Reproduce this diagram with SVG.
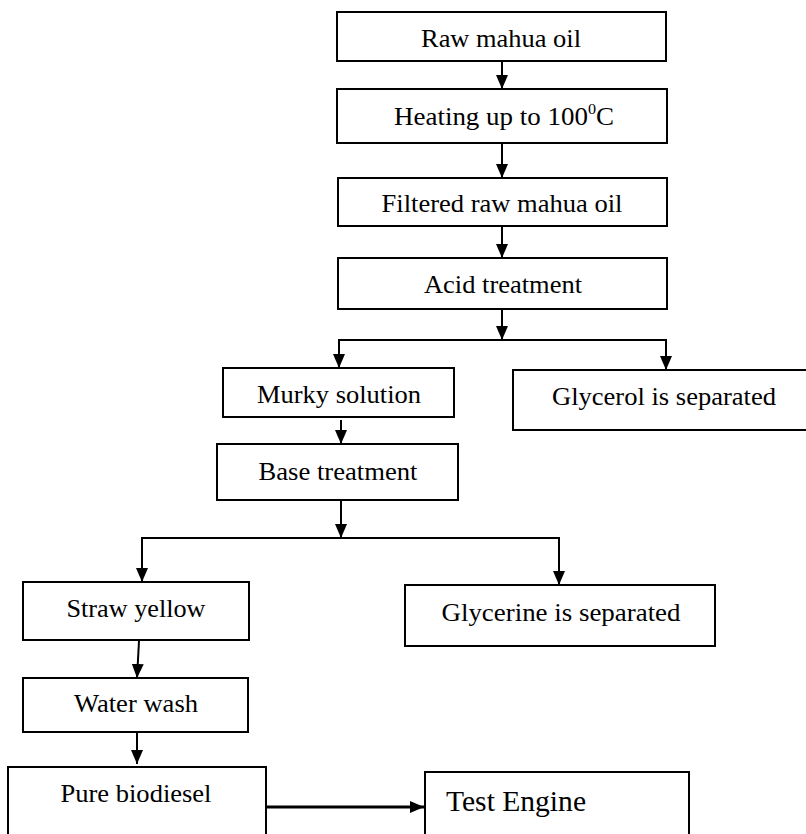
<svg xmlns="http://www.w3.org/2000/svg" width="806" height="834" viewBox="0 0 806 834">
<style>
.box{fill:#fff;stroke:#000;stroke-width:2}
.t{font-family:"Liberation Serif","Times New Roman",serif;font-size:25px;fill:#000;text-anchor:middle}
.c{fill:none;stroke:#000;stroke-width:2}
</style>
<defs>
<marker id="ah" markerUnits="userSpaceOnUse" markerWidth="14" markerHeight="12" refX="14" refY="6" orient="auto">
<path d="M0,0 L14,6 L0,12 Z" fill="#000"/>
</marker>
</defs>
<rect width="806" height="834" fill="#fff"/>
<g id="connectors">
<line class="c" x1="502" y1="61" x2="502" y2="89" marker-end="url(#ah)"/>
<line class="c" x1="502" y1="143" x2="502" y2="178" marker-end="url(#ah)"/>
<line class="c" x1="502" y1="226" x2="502" y2="258" marker-end="url(#ah)"/>
<line class="c" x1="502" y1="309" x2="502" y2="340" marker-end="url(#ah)"/>
<polyline class="c" points="339,367 339,340 666,340 666,369"/>
<line class="c" x1="339" y1="340" x2="339" y2="368" marker-end="url(#ah)"/>
<line class="c" x1="666" y1="340" x2="666" y2="370" marker-end="url(#ah)"/>
<line class="c" x1="341" y1="420" x2="341" y2="444" marker-end="url(#ah)"/>
<line class="c" x1="341" y1="500" x2="341" y2="538" marker-end="url(#ah)"/>
<polyline class="c" points="142,580 142,538 559,538 559,584"/>
<line class="c" x1="142" y1="538" x2="142" y2="582" marker-end="url(#ah)"/>
<line class="c" x1="559" y1="538" x2="559" y2="585" marker-end="url(#ah)"/>
<line class="c" x1="139" y1="641" x2="137" y2="678" marker-end="url(#ah)"/>
<line class="c" x1="137" y1="732" x2="137" y2="764" marker-end="url(#ah)"/>
<line x1="266" y1="807" x2="424" y2="807" stroke="#000" stroke-width="3" marker-end="url(#ah)"/>
</g>
<g id="n1"><rect class="box" x="337" y="12" width="329" height="49"/><text class="t" x="501" y="47" textLength="160" lengthAdjust="spacingAndGlyphs">Raw mahua oil</text></g>
<g id="n2"><rect class="box" x="337" y="89" width="330" height="54"/><text class="t" x="504" y="125" textLength="220" lengthAdjust="spacingAndGlyphs">Heating up to 100<tspan font-size="15" dy="-11">0</tspan><tspan dy="11">C</tspan></text></g>
<g id="n3"><rect class="box" x="338" y="178" width="329" height="48"/><text class="t" x="502" y="212" textLength="241" lengthAdjust="spacingAndGlyphs">Filtered raw mahua oil</text></g>
<g id="n4"><rect class="box" x="338" y="258" width="329" height="51"/><text class="t" x="503" y="293" textLength="158" lengthAdjust="spacingAndGlyphs">Acid treatment</text></g>
<g id="n5"><rect class="box" x="223" y="368" width="231" height="49"/><text class="t" x="339" y="403" textLength="164" lengthAdjust="spacingAndGlyphs">Murky solution</text></g>
<g id="n6"><rect class="box" x="513" y="370" width="300" height="60"/><text class="t" x="664" y="405" textLength="224" lengthAdjust="spacingAndGlyphs">Glycerol is separated</text></g>
<g id="n7"><rect class="box" x="217" y="444" width="241" height="56"/><text class="t" x="338" y="480" textLength="159" lengthAdjust="spacingAndGlyphs">Base treatment</text></g>
<g id="n8"><rect class="box" x="23" y="582" width="226" height="58"/><text class="t" x="136" y="617" textLength="139" lengthAdjust="spacingAndGlyphs">Straw yellow</text></g>
<g id="n9"><rect class="box" x="405" y="585" width="310" height="61"/><text class="t" x="561" y="621" textLength="239" lengthAdjust="spacingAndGlyphs">Glycerine is separated</text></g>
<g id="n10"><rect class="box" x="23" y="678" width="225" height="54"/><text class="t" x="136" y="712" textLength="124" lengthAdjust="spacingAndGlyphs">Water wash</text></g>
<g id="n11"><rect class="box" x="8" y="767" width="258" height="80"/><text class="t" x="136" y="802" textLength="151" lengthAdjust="spacingAndGlyphs">Pure biodiesel</text></g>
<g id="n12"><rect class="box" x="425" y="772" width="264" height="75"/><text class="t" x="516" y="811" style="font-size:30px" textLength="140" lengthAdjust="spacingAndGlyphs">Test Engine</text></g>
</svg>
